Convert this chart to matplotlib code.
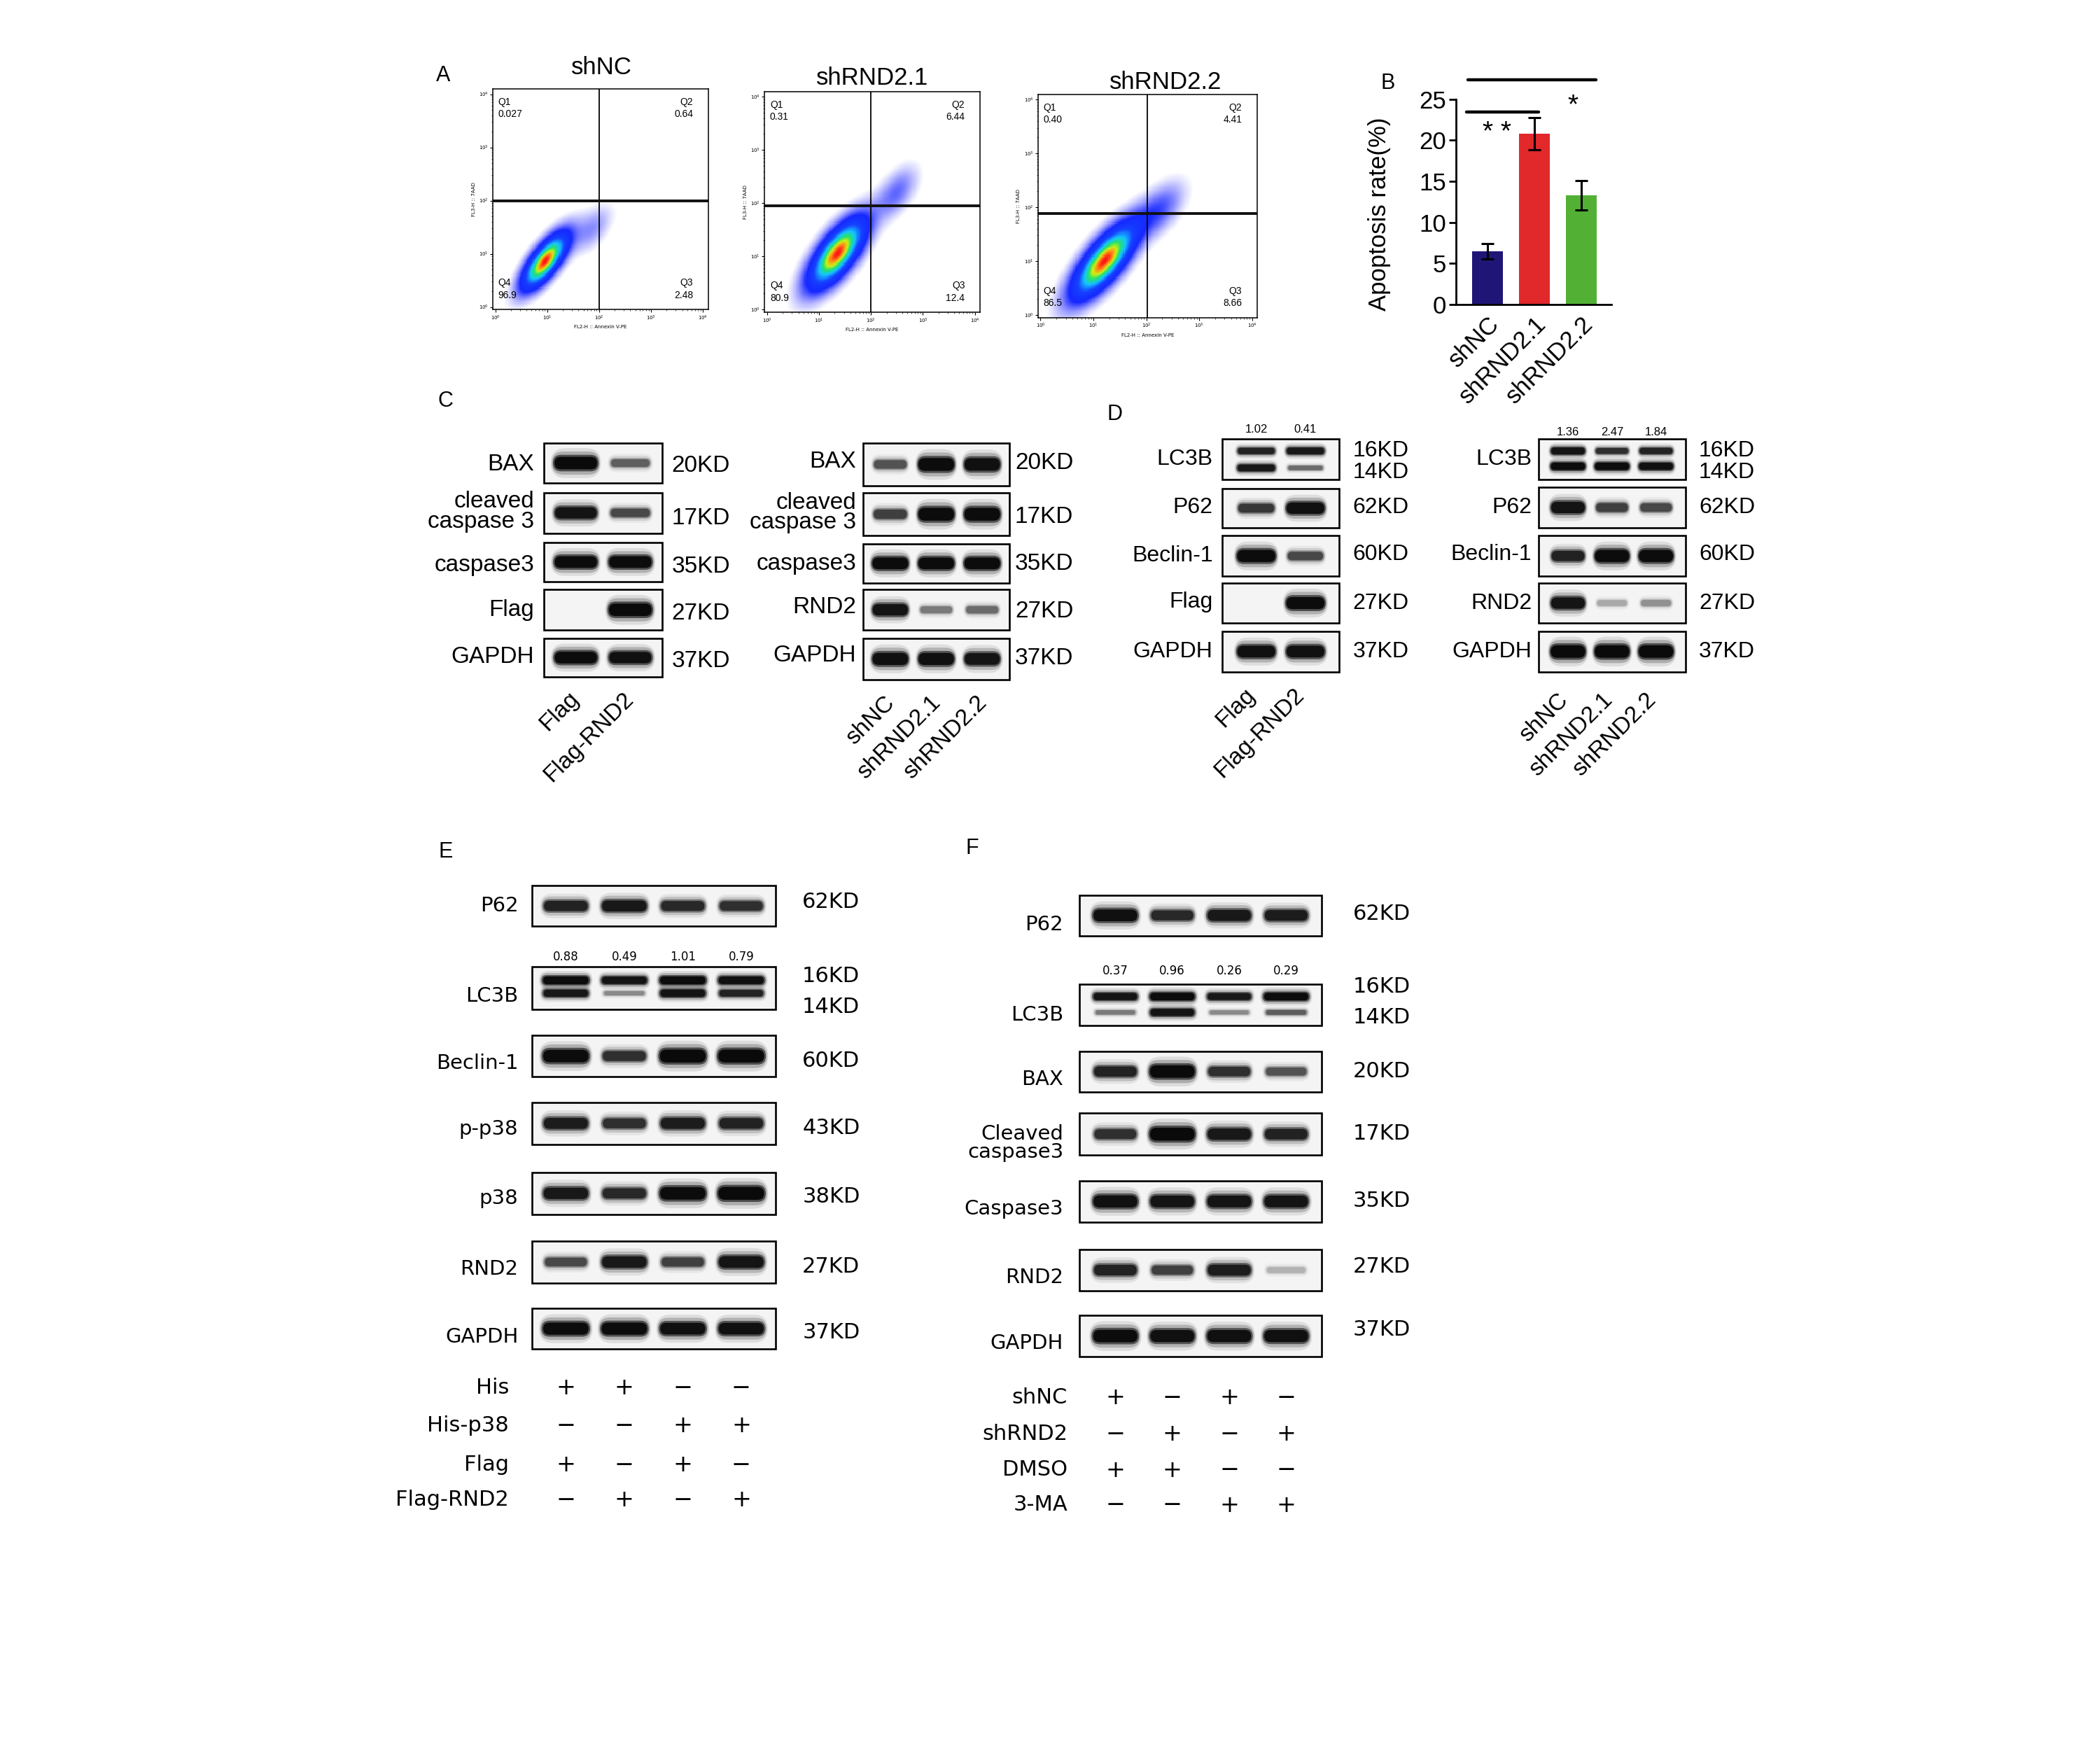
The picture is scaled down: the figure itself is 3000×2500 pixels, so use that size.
import numpy as np
import matplotlib
matplotlib.use('Agg')
import matplotlib.pyplot as plt
from matplotlib.patches import Rectangle, FancyBboxPatch
from matplotlib.colors import LinearSegmentedColormap
from matplotlib import font_manager

# ===================== DATA =====================
# --- Panel A: flow cytometry (quadrant percentages) ---
flow_titles = ['shNC', 'shRND2.1', 'shRND2.2']
flow_q1 = ['0.027', '0.31', '0.40']
flow_q2 = ['0.64', '6.44', '4.41']
flow_q3 = ['2.48', '12.4', '8.66']
flow_q4 = ['96.9', '80.9', '86.5']
flow_gate_x = [2.0, 2.0, 2.02]          # log10 gate on Annexin V-PE
flow_gate_y = [2.0, 1.95, 1.88]         # log10 gate on 7AAD
# population clouds: (centre x, centre y, sd major, sd minor, angle, weight)
flow_cloud_main = [(0.95, 0.85, 0.42, 0.16, 52, 1.0),
                   (1.35, 1.05, 0.52, 0.21, 52, 1.0),
                   (1.20, 1.00, 0.57, 0.21, 50, 1.0)]
flow_cloud_tail = [(1.85, 1.45, 0.34, 0.18, 50, 0.12),
                   (2.50, 2.20, 0.36, 0.19, 55, 0.16),
                   (2.25, 1.95, 0.40, 0.21, 50, 0.18)]

# --- Panel B: apoptosis rate ---
apop_groups = ['shNC', 'shRND2.1', 'shRND2.2']
apop_mean = [6.5, 20.8, 13.3]
apop_err = [0.95, 1.95, 1.8]
apop_colors = ['#1f1577', '#e1282b', '#52b135']

# --- Panel C ---
C1_lanes = ['Flag', 'Flag-RND2']
C1_proteins = ['BAX', 'cleaved\ncaspase 3', 'caspase3', 'Flag', 'GAPDH']
C1_kd = [['20KD'], ['17KD'], ['35KD'], ['27KD'], ['37KD']]
C1_bands = [[[1.00, 0.35]], [[0.85, 0.45]], [[0.95, 0.95]], [[0.00, 1.00]], [[0.95, 0.90]]]

C2_lanes = ['shNC', 'shRND2.1', 'shRND2.2']
C2_proteins = ['BAX', 'cleaved\ncaspase 3', 'caspase3', 'RND2', 'GAPDH']
C2_kd = [['20KD'], ['17KD'], ['35KD'], ['27KD'], ['37KD']]
C2_bands = [[[0.40, 0.95, 0.90]], [[0.50, 0.95, 0.95]], [[0.95, 0.95, 0.95]],
            [[0.85, 0.25, 0.30]], [[0.90, 0.90, 0.85]]]

# --- Panel D ---
D1_lanes = ['Flag', 'Flag-RND2']
D1_proteins = ['LC3B', 'P62', 'Beclin-1', 'Flag', 'GAPDH']
D1_kd = [['16KD', '14KD'], ['62KD'], ['60KD'], ['27KD'], ['37KD']]
D1_bands = [[[0.70, 0.80], [0.80, 0.30]], [[0.55, 0.90]], [[0.95, 0.45]],
            [[0.00, 0.95]], [[0.90, 0.90]]]
D1_ratio = ['1.02', '0.41']

D2_lanes = ['shNC', 'shRND2.1', 'shRND2.2']
D2_proteins = ['LC3B', 'P62', 'Beclin-1', 'RND2', 'GAPDH']
D2_kd = [['16KD', '14KD'], ['62KD'], ['60KD'], ['27KD'], ['37KD']]
D2_bands = [[[0.85, 0.60, 0.70], [0.95, 0.95, 0.90]], [[0.85, 0.50, 0.45]],
            [[0.70, 0.95, 0.95]], [[0.85, 0.12, 0.18]], [[1.00, 1.00, 1.00]]]
D2_ratio = ['1.36', '2.47', '1.84']

# --- Panel E ---
E_proteins = ['P62', 'LC3B', 'Beclin-1', 'p-p38', 'p38', 'RND2', 'GAPDH']
E_kd = [['62KD'], ['16KD', '14KD'], ['60KD'], ['43KD'], ['38KD'], ['27KD'], ['37KD']]
E_bands = [[[0.70, 0.80, 0.65, 0.60]],
           [[0.95, 0.85, 0.95, 0.90], [0.80, 0.20, 0.85, 0.70]],
           [[0.95, 0.60, 1.00, 1.00]],
           [[0.75, 0.60, 0.75, 0.70]],
           [[0.80, 0.65, 0.95, 1.00]],
           [[0.45, 0.80, 0.50, 0.85]],
           [[0.95, 0.95, 0.90, 0.90]]]
E_ratio = ['0.88', '0.49', '1.01', '0.79']
E_cond_names = ['His', 'His-p38', 'Flag', 'Flag-RND2']
E_cond = [['+', '+', '−', '−'],
          ['−', '−', '+', '+'],
          ['+', '−', '+', '−'],
          ['−', '+', '−', '+']]

# --- Panel F ---
F_proteins = ['P62', 'LC3B', 'BAX', 'Cleaved\ncaspase3', 'Caspase3', 'RND2', 'GAPDH']
F_kd = [['62KD'], ['16KD', '14KD'], ['20KD'], ['17KD'], ['35KD'], ['27KD'], ['37KD']]
F_bands = [[[0.90, 0.65, 0.80, 0.75]],
           [[0.85, 0.95, 0.80, 0.95], [0.25, 0.85, 0.20, 0.35]],
           [[0.70, 1.00, 0.60, 0.40]],
           [[0.60, 1.00, 0.80, 0.70]],
           [[0.90, 0.85, 0.85, 0.85]],
           [[0.70, 0.50, 0.75, 0.10]],
           [[0.95, 0.90, 0.90, 0.90]]]
F_ratio = ['0.37', '0.96', '0.26', '0.29']
F_cond_names = ['shNC', 'shRND2', 'DMSO', '3-MA']
F_cond = [['+', '−', '+', '−'],
          ['−', '+', '−', '+'],
          ['+', '+', '−', '−'],
          ['−', '−', '+', '+']]

# ===================== STYLE / LAYOUT =====================
avail = {f.name for f in font_manager.fontManager.ttflist}
ARIAL = 'Liberation Sans' if 'Liberation Sans' in avail else 'DejaVu Sans'
NARROW = 'Liberation Sans Narrow' if 'Liberation Sans Narrow' in avail else ARIAL
WIDE = 'DejaVu Sans'

W, H = 1560.0, 1300.0
fig = plt.figure(figsize=(30, 25), dpi=100)
bg = fig.add_axes([0, 0, 1, 1])
bg.set_xlim(0, W)
bg.set_ylim(H, 0)
bg.axis('off')


def fig_rect(x0, y0, x1, y1):
    return [x0 / W, 1 - y1 / H, (x1 - x0) / W, (y1 - y0) / H]


# panel letters
for letter, (lx, ly) in zip('ABCDEF', [(329, 56), (1031, 62), (331, 298), (828, 308), (331, 633), (722, 630)]):
    bg.text(lx, ly, letter, fontsize=22, family=ARIAL, ha='center', va='center')

# ---------------- Panel A ----------------
flow_boxes = [(366, 66, 526, 230), (568, 68, 728, 232), (771, 70, 934, 236)]
flow_title_pos = [(447, 50), (648, 58), (866, 61)]
flow_cmap = LinearSegmentedColormap.from_list(
    'flow', [(0.0, '#0000ff'), (0.35, '#0030ff'), (0.55, '#00c0ff'), (0.7, '#10e060'),
             (0.82, '#c8f000'), (0.92, '#ff8000'), (1.0, '#ff0000')])
lo, hi = -0.05, 4.1
grid = np.linspace(lo, hi, 150)
GX, GY = np.meshgrid(grid, grid)
for i in range(3):
    ax = fig.add_axes(fig_rect(*flow_boxes[i]))
    dens = np.zeros_like(GX)
    for comp in (flow_cloud_main[i], flow_cloud_tail[i]):
        cx, cy, sa, sb, ang, wgt = comp
        t = np.deg2rad(ang)
        u = (GX - cx) * np.cos(t) + (GY - cy) * np.sin(t)
        v = -(GX - cx) * np.sin(t) + (GY - cy) * np.cos(t)
        dens += wgt * np.exp(-0.5 * ((u / sa) ** 2 + (v / sb) ** 2))
    rgba = flow_cmap(np.clip(dens, 0, 1) ** 1.3)
    rgba[..., 3] = np.clip((dens - 0.02) / 0.22, 0, 1) ** 0.9 * 0.92
    ax.imshow(rgba, extent=(lo, hi, lo, hi), origin='lower', interpolation='nearest', aspect='auto')
    ax.axvline(flow_gate_x[i], color='black', lw=1.3)
    ax.axhline(flow_gate_y[i], color='#111111', lw=2.8)
    ax.set_xlim(lo, hi)
    ax.set_ylim(lo, hi)
    majors = [0, 1, 2, 3, 4]
    minors = [k + np.log10(m) for k in range(4) for m in range(2, 10)]
    ax.set_xticks(majors)
    ax.set_xticks(minors, minor=True)
    ax.set_yticks(majors)
    ax.set_yticks(minors, minor=True)
    ax.set_xticklabels([r'$10^{%d}$' % k for k in majors], fontsize=5)
    ax.set_yticklabels([r'$10^{%d}$' % k for k in majors], fontsize=5)
    ax.tick_params(which='major', length=3, width=0.8, pad=1.5)
    ax.tick_params(which='minor', length=1.5, width=0.5)
    ax.set_xlabel('FL2-H :: Annexin V-PE', fontsize=5, labelpad=3)
    ax.set_ylabel('FL3-H :: 7AAD', fontsize=5, labelpad=3)
    for sp in ax.spines.values():
        sp.set_linewidth(1.1)
    tk = dict(transform=ax.transAxes, fontsize=10, family=NARROW, va='center')
    ax.text(0.025, 0.94, 'Q1', ha='left', **tk)
    ax.text(0.025, 0.885, flow_q1[i], ha='left', **tk)
    ax.text(0.93, 0.94, 'Q2', ha='right', **tk)
    ax.text(0.93, 0.885, flow_q2[i], ha='right', **tk)
    ax.text(0.025, 0.12, 'Q4', ha='left', **tk)
    ax.text(0.025, 0.065, flow_q4[i], ha='left', **tk)
    ax.text(0.93, 0.12, 'Q3', ha='right', **tk)
    ax.text(0.93, 0.065, flow_q3[i], ha='right', **tk)
    bg.text(flow_title_pos[i][0], flow_title_pos[i][1], flow_titles[i], fontsize=25,
            family=ARIAL, ha='center', va='center')

# ---------------- Panel B ----------------
axB = fig.add_axes(fig_rect(1081.6, 73.7, 1197.0, 226.2))
xb = np.arange(len(apop_groups))
axB.bar(xb, apop_mean, width=0.66, color=apop_colors, zorder=2)
axB.errorbar(xb, apop_mean, yerr=apop_err, fmt='none', ecolor='black', elinewidth=2.2,
             capsize=6.5, capthick=2.2, zorder=3)
axB.set_xlim(-0.667, 2.646)
axB.set_ylim(0, 25)
axB.set_yticks([0, 5, 10, 15, 20, 25])
axB.set_xticks(xb)
axB.set_xticklabels(apop_groups, rotation=45, ha='right', va='top', rotation_mode='anchor',
                    fontsize=25, family=ARIAL)
for lab in axB.get_yticklabels():
    lab.set_family(ARIAL)
    lab.set_fontsize(25)
axB.tick_params(axis='y', length=7, width=2, pad=3)
axB.tick_params(axis='x', length=0, pad=8)
axB.spines['top'].set_visible(False)
axB.spines['right'].set_visible(False)
axB.spines['left'].set_linewidth(2)
axB.spines['bottom'].set_linewidth(2)
axB.set_ylabel('Apoptosis rate(%)', fontsize=25, family=ARIAL)
axB.yaxis.set_label_coords(-0.42, 0.44)
axB.plot([-0.42, 2.32], [27.4, 27.4], color='black', lw=3.2, solid_capstyle='round', clip_on=False)
axB.plot([-0.44, 1.10], [23.45, 23.45], color='black', lw=3.2, solid_capstyle='round', clip_on=False)
axB.text(0.2, 20.9, '* *', fontsize=28, ha='center', va='center', family=ARIAL)
axB.text(1.82, 24.2, '*', fontsize=28, ha='center', va='center', family=ARIAL)


# ---------------- Western blots ----------------
def draw_band(xc, yc, w, h, inten):
    if inten <= 0.02:
        return
    layers = [(1.10, 1.8, 0.10), (1.05, 1.4, 0.22), (1.0, 1.0, 0.6), (0.93, 0.75, 1.0)]
    for sw, sh, a in layers:
        ww, hh = w * sw, h * sh
        p = FancyBboxPatch((xc - ww / 2, yc - hh / 2), ww, hh,
                           boxstyle='round,pad=0,rounding_size=%f' % (hh / 2),
                           facecolor='#0a0a0a', edgecolor='none', alpha=min(1.0, a * inten ** 0.8),
                           zorder=3)
        bg.add_patch(p)


def draw_group(proteins, kds, bands, box_x, rows, lab_x, lab_y, kd_x, kd_y, band_y,
               font, fs_lab, fs_kd, margin, lw_box=1.9, band_w=0.84):
    x0, x1 = box_x
    n = len(bands[0][0])
    inner0 = x0 + margin * (x1 - x0)
    inner1 = x1 - margin * (x1 - x0)
    step = (inner1 - inner0) / n
    centres = [inner0 + (k + 0.5) * step for k in range(n)]
    for r, prot in enumerate(proteins):
        y0, y1 = rows[r]
        bh = y1 - y0
        bg.add_patch(Rectangle((x0, y0), x1 - x0, bh, facecolor='#f4f4f4', edgecolor='black',
                               lw=lw_box, zorder=2))
        nrows = len(bands[r])
        ys = band_y[r] if nrows > 1 else [0.5]
        for br, row in enumerate(bands[r]):
            yc = y0 + ys[br] * bh
            for k, inten in enumerate(row):
                hb = bh * ((0.17 + 0.24 * inten) if nrows == 1 else (0.11 + 0.14 * inten))
                draw_band(centres[k], yc, step * band_w * (0.85 + 0.15 * inten), hb, inten)
        bg.text(lab_x, lab_y[r], prot, fontsize=fs_lab, family=font, ha='right', va='center',
                linespacing=0.9)
        for kt, ky in zip(kds[r], kd_y[r]):
            bg.text(kd_x, ky, kt, fontsize=fs_kd, family=font, ha='left', va='center')
    return centres


def lane_labels(centres, labels, y, fs, font, dx=4):
    for c, lab in zip(centres, labels):
        bg.text(c + dx, y, lab, rotation=45, ha='right', va='top', rotation_mode='anchor',
                fontsize=fs, family=font)


def ratio_labels(centres, labels, y, fs, font):
    for c, lab in zip(centres, labels):
        bg.text(c, y, lab, fontsize=fs, family=font, ha='center', va='center')


def cond_table(centres, names, table, ys, lab_x, fs, font):
    for r, name in enumerate(names):
        bg.text(lab_x, ys[r], name, fontsize=fs, family=font, ha='right', va='center')
        for c, s in zip(centres, table[r]):
            bg.text(c, ys[r], s, fontsize=fs + 2, family=WIDE, ha='center', va='center')


# Panel C left
cC1 = draw_group(C1_proteins, C1_kd, C1_bands, (404, 492),
                 [(329, 359), (366, 396), (403, 432), (438, 468), (474, 503)],
                 397, [345, 380, 420, 453, 488], 499, [[346], [385], [421], [456], [491]],
                 None, ARIAL, 24, 24, 0.04)
lane_labels(cC1, C1_lanes, 511, 24, ARIAL, dx=-6)
# Panel C right
cC2 = draw_group(C2_proteins, C2_kd, C2_bands, (641, 750),
                 [(329, 361), (366, 398), (404, 433), (438, 468), (474, 505)],
                 636, [343, 381, 419, 451, 487], 754, [[344], [384], [419], [454], [489]],
                 None, ARIAL, 24, 24, 0.03)
lane_labels(cC2, C2_lanes, 514, 24, ARIAL, dx=-5)
# Panel D left
cD1 = draw_group(D1_proteins, D1_kd, D1_bands, (908, 995),
                 [(326, 356), (363, 392), (398, 428), (433, 463), (469, 499)],
                 901, [341, 377, 413, 447, 484], 1005, [[335, 351], [377], [412], [448], [484]],
                 [[0.3, 0.72], None, None, None, None], ARIAL, 23, 23, 0.08)
ratio_labels(cD1, D1_ratio, 319, 12, NARROW)
lane_labels(cD1, D1_lanes, 508, 24, ARIAL, dx=-9)
# Panel D right
cD2 = draw_group(D2_proteins, D2_kd, D2_bands, (1143, 1252),
                 [(326, 356), (362, 392), (398, 428), (433, 463), (469, 499)],
                 1138, [341, 377, 412, 448, 484], 1262, [[335, 351], [377], [412], [448], [484]],
                 [[0.3, 0.68], None, None, None, None], ARIAL, 23, 23, 0.05)
ratio_labels(cD2, D2_ratio, 321, 12, NARROW)
lane_labels(cD2, D2_lanes, 512, 24, ARIAL, dx=-8)
# Panel E
cE = draw_group(E_proteins, E_kd, E_bands, (395, 576),
                [(658, 688), (718, 750), (769, 800), (819, 850), (871, 902), (922, 953), (972, 1002)],
                385, [673, 740, 790, 839, 890, 943, 993], 596,
                [[670], [725, 748], [788], [838], [889], [941], [990]],
                [None, [0.32, 0.62], None, None, None, None, None], WIDE, 21, 22, 0.02)
ratio_labels(cE, E_ratio, 711, 12, WIDE)
cond_table(cE, E_cond_names, E_cond, [1031, 1059, 1088, 1114], 378, 22, WIDE)
# Panel F
cF = draw_group(F_proteins, F_kd, F_bands, (802, 982),
                [(665, 695), (731, 762), (781, 811), (827, 858), (877, 908), (928, 959), (977, 1008)],
                790, [687, 754, 802, 849, 898, 949, 998], 1005,
                [[679], [733, 756], [796], [842], [892], [941], [988]],
                [None, [0.3, 0.68], None, None, None, None, None], WIDE, 21, 22, 0.03)
ratio_labels(cF, F_ratio, 721, 12, WIDE)
cond_table(cF, F_cond_names, F_cond, [1038, 1065, 1092, 1118], 793, 22, WIDE)

fig.savefig('out.png', dpi=100, facecolor='white')
